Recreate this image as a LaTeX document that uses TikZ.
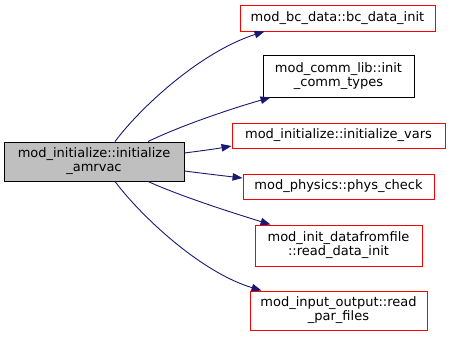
\documentclass[tikz,border=0pt]{standalone}
\usepackage{fontspec}
\setmainfont{DejaVu Sans}
\usetikzlibrary{arrows.meta}
\definecolor{edgeblue}{HTML}{191970}
\definecolor{nodegray}{HTML}{BFBFBF}
\tikzset{
  fn/.style={draw, rectangle, line width=0.9pt, inner sep=0pt, align=center,
    font=\fontsize{13}{14}\selectfont, text=black},
  redfn/.style={fn, draw=red},
  blackfn/.style={fn, draw=black},
  mainfn/.style={fn, draw=black, fill=nodegray},
  call/.style={draw=edgeblue, line width=0.9pt,
    -{Triangle[length=10pt,width=7.5pt,fill=edgeblue]}}
}
\begin{document}
\begin{tikzpicture}[x=1pt,y=-1pt]
\useasboundingbox (0,0) rectangle (451,337);
\node[mainfn, minimum width=180, minimum height=39] (main) at (94,161.5)
  {mod\_initialize::initialize\\\_amrvac};
\node[redfn, minimum width=195, minimum height=26] (bc) at (337.5,18)
  {mod\_bc\_data::bc\_data\_init};
\node[blackfn, minimum width=151, minimum height=42] (comm) at (338.5,76)
  {mod\_comm\_lib::init\\\_comm\_types};
\node[redfn, minimum width=213, minimum height=25] (vars) at (338.5,135.5)
  {mod\_initialize::initialize\_vars};
\node[redfn, minimum width=191, minimum height=25] (phys) at (338.5,186.5)
  {mod\_physics::phys\_check};
\node[redfn, minimum width=167, minimum height=41] (data) at (338.5,245.5)
  {mod\_init\_datafromfile\\::read\_data\_init};
\node[redfn, minimum width=177, minimum height=39] (par) at (338.5,310.5)
  {mod\_input\_output::read\\\_par\_files};

\draw[call] ([xshift=21]main.north) .. controls (140,108) and (200,52) .. ([xshift=25]bc.south west);
\draw[call] ([xshift=54]main.north) .. controls (180,126) and (230,109) .. ([xshift=8]comm.south west);
\draw[call] ([yshift=8.5]main.east) .. controls (200,151) and (215,149) .. ([yshift=-10.5]vars.west);
\draw[call] ([yshift=-9.5]main.east) .. controls (200,173) and (225,176) .. ([yshift=8.5]phys.west);
\draw[call] ([xshift=54]main.south) .. controls (180,196) and (230,212) .. ([xshift=16]data.north west);
\draw[call] ([xshift=21]main.south) .. controls (140,215) and (200,272) .. ([xshift=12]par.north west);
\end{tikzpicture}
\end{document}
